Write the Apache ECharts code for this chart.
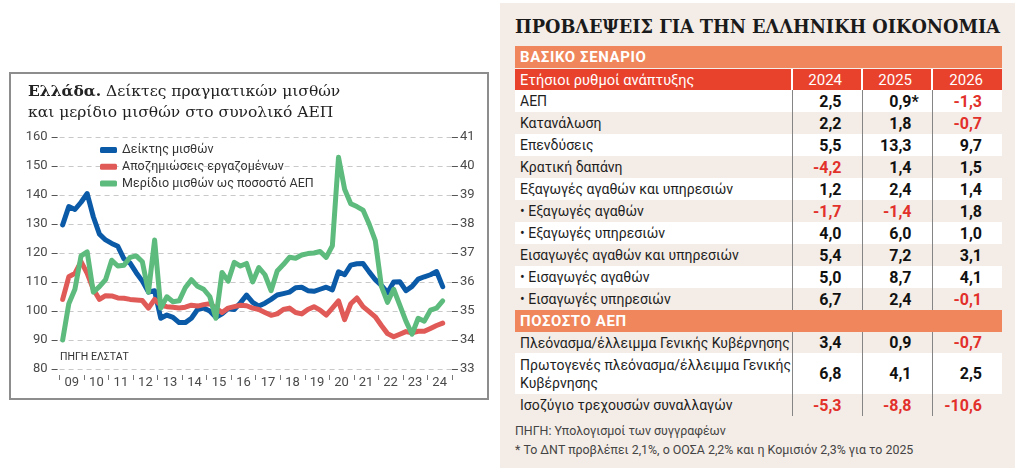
<!DOCTYPE html>
<html>
<head>
<meta charset="utf-8">
<script src="https://cdn.jsdelivr.net/npm/echarts@6/dist/echarts.min.js"></script>
<style>
  html, body { margin: 0; padding: 0; background: #fff; width: 1020px; height: 475px; overflow: hidden; }
  #chart-box { position: absolute; left: 9px; top: 72px; width: 476px; height: 324px; border: 2px solid #8d8d8d; }
  #chart-container { position: absolute; left: 0; top: 0; width: 500px; height: 475px; }
  #panel { position: absolute; left: 500px; top: 3px; width: 515px; height: 465px; background: #f4ede7; }
  #panel h1 { position: absolute; left: 15px; top: 13px; margin: 0; font: bold 17.7px 'DejaVu Serif', serif; color: #1a1a1a; white-space: nowrap; }
  #tbl { position: absolute; left: 15px; top: 43px; border-collapse: collapse; table-layout: fixed; font-family: Roboto, sans-serif; }
  #tbl td { padding: 0; white-space: nowrap; }
  #tbl td.lbl { padding-left: 5px; font-size: 14px; color: #1e1e1e; line-height: 18px; }
  #tbl td.num { text-align: right; padding-right: 20px; font-size: 16px; font-weight: bold; color: #111; border-left: 1.5px solid #858585; }
  #tbl td.neg { color: #e2302a; }
  #tbl tr.odd { background: #fff; }
  #tbl tr.sect td { background: #f0865b; color: #fff; font-weight: bold; font-size: 15px; letter-spacing: 0.6px; padding-left: 5px; }
  #tbl tr.head td { background: #e8412c; color: #fff; font-size: 14.6px; }
  #tbl tr.head td.yr { text-align: right; padding-right: 19px; border-left: 2px solid #fff; font-size: 15px; }
  #tbl tr.gap td { height: 1px; background: transparent; }
  .ast { display: inline-block; width: 0; overflow: visible; }
  .note { position: absolute; left: 15px; font: 12.4px Roboto, sans-serif; color: #444; white-space: nowrap; }
</style>
</head>
<body>
<div id="chart-box"></div>
<div id="chart-container"></div>
<div id="panel">
  <h1>ΠΡΟΒΛΕΨΕΙΣ ΓΙΑ ΤΗΝ ΕΛΛΗΝΙΚΗ ΟΙΚΟΝΟΜΙΑ</h1>
  <table id="tbl"></table>
  <div class="note" style="top:420px">ΠΗΓΗ: Υπολογισμοί των συγγραφέων</div>
  <div class="note" style="top:439px">* Το ΔΝΤ προβλέπει 2,1%, ο ΟΟΣΑ 2,2% και η Κομισιόν 2,3% για το 2025</div>
</div>
<script>
// quarterly categories 2009Q1 .. 2024Q3
var quarters = [];
for (var y = 2009; y <= 2024; y++) {
  for (var q = 1; q <= 4; q++) {
    if (y === 2024 && q > 3) break;
    quarters.push(y + 'Q' + q);
  }
}
var yearLabels = ['09', '10', '11', '12', '13', '14', '15', '16', '17', '18', '19', '20', '21', '22', '23', '24'];

// Δείκτης μισθών (left axis)
var wageIndex = [129.7, 136, 135, 137.5, 140.5, 132.5, 126.5, 124.5, 123.3, 122.3,
  118, 116.5, 113.2, 110.3, 106.5, 107, 97.5, 98.6, 97.8, 96,
  96, 97.5, 100.5, 101, 100, 97.8, 99, 100.8, 100.5, 102.8,
  105.5, 103, 101.7, 102.7, 104, 105.5, 106, 106.5, 108, 108.2,
  107, 106.8, 107.5, 108.2, 107.3, 113.5, 112.5, 115.8, 116.3, 116.4,
  113.5, 110.8, 108.8, 106.3, 110, 110.1, 107, 108.5, 111, 111.8,
  112.5, 113.6, 108.4];
// Αποζημιώσεις εργαζομένων (left axis)
var compensation = [104, 111.8, 113, 117, 113, 107.5, 104, 105.3, 105.2, 104.5,
  104.4, 104, 103.8, 103.6, 101, 104, 102, 101.5, 101.3, 101,
  101.3, 102, 101.7, 102.2, 102.5, 101, 99.5, 101, 101.5, 102,
  101.8, 101, 100.5, 99.5, 98.5, 99, 100.5, 101, 99.5, 99,
  100.5, 101.5, 100.3, 98.6, 101, 103.5, 97, 102.5, 104.5, 101.5,
  99.8, 98, 95, 92.2, 91.1, 92, 92.9, 92.5, 93, 93,
  94, 95, 95.8];
// Μερίδιο μισθών ως ποσοστό ΑΕΠ (right axis)
var wageShare = [34.0, 35.25, 35.75, 36.9, 37.04, 35.65, 35.84, 36.08, 36.75, 36.55,
  36.58, 36.85, 36.9, 36.7, 35.65, 37.45, 35.1, 35.49, 35.32, 35.35,
  35.8, 36.08, 35.85, 35.75, 35.5, 34.75, 36.33, 36.03, 36.68, 36.55,
  36.64, 36.0, 36.5, 36.25, 35.7, 36.38, 36.6, 36.85, 36.82, 36.93,
  36.98, 37.0, 37.05, 36.85, 37.25, 40.3, 39.2, 38.7, 38.6, 38.48,
  38.0, 37.43, 35.85, 35.3, 35.75, 35.2, 34.65, 34.2, 34.75, 34.65,
  35.03, 35.1, 35.35];

// table data
var rowLabels = ['ΑΕΠ', 'Κατανάλωση', 'Επενδύσεις', 'Κρατική δαπάνη', 'Εξαγωγές αγαθών και υπηρεσιών',
  '• Εξαγωγές αγαθών', '• Εξαγωγές υπηρεσιών', 'Εισαγωγές αγαθών και υπηρεσιών',
  '• Εισαγωγές αγαθών', '• Εισαγωγές υπηρεσιών'];
var rowLabels2 = ['Πλεόνασμα/έλλειμμα Γενικής Κυβέρνησης', 'Πρωτογενές πλεόνασμα/έλλειμμα Γενικής<br>Κυβέρνησης', 'Ισοζύγιο τρεχουσών συναλλαγών'];
var years = ['2024', '2025', '2026'];
var v2024 = [2.5, 2.2, 5.5, -4.2, 1.2, -1.7, 4.0, 5.4, 5.0, 6.7, 3.4, 6.8, -5.3];
var v2025 = [0.9, 1.8, 13.3, 1.4, 2.4, -1.4, 6.0, 7.2, 8.7, 2.4, 0.9, 4.1, -8.8];
var v2026 = [-1.3, -0.7, 9.7, 1.5, 1.4, 1.8, 1.0, 3.1, 4.1, -0.1, -0.7, 2.5, -10.6];

function fmt(v) { return v.toFixed(1).replace('.', ','); }
function numCell(v, star) {
  return '<td class="num' + (v < 0 ? ' neg' : '') + '">' + fmt(v) + (star ? '<span class="ast">*</span>' : '') + '</td>';
}
function dataRow(label, i, odd, h) {
  return '<tr class="' + (odd ? 'odd' : '') + '" style="height:' + h + 'px"><td class="lbl">' + label + '</td>' +
    numCell(v2024[i]) + numCell(v2025[i], i === 0) + numCell(v2026[i]) + '</tr>';
}
var html = '<colgroup><col style="width:277px"><col style="width:70px"><col style="width:70px"><col style="width:70px"></colgroup>';
html += '<tr class="sect" style="height:22px"><td colspan="4">ΒΑΣΙΚΟ ΣΕΝΑΡΙΟ</td></tr>';
html += '<tr class="gap"><td colspan="4"></td></tr>';
html += '<tr class="head" style="height:21px"><td style="padding-left:5px">Ετήσιοι ρυθμοί ανάπτυξης</td>' +
  years.map(function (y) { return '<td class="yr">' + y + '</td>'; }).join('') + '</tr>';
rowLabels.forEach(function (l, i) { html += dataRow(l, i, i % 2 === 0, 22); });
html += '<tr class="sect" style="height:22px"><td colspan="4">ΠΟΣΟΣΤΟ ΑΕΠ</td></tr>';
html += dataRow(rowLabels2[0], 10, false, 21);
html += dataRow(rowLabels2[1], 11, true, 41);
html += dataRow(rowLabels2[2], 12, false, 22);
document.getElementById('tbl').innerHTML = html;

var dom = document.getElementById('chart-container');
var myChart = echarts.init(dom, null, { renderer: 'canvas' });

function toPairs(values) {
  return values.map(function (v, i) {
    var parts = quarters[i].split('Q');
    return [+parts[0] + (+parts[1] - 1) / 4 + 0.125, v];
  });
}

var axisFont = { fontFamily: 'Roboto', fontSize: 13, color: '#4a4a4a' };

var option = {
  animation: false,
  title: {
    text: '{b|Ελλάδα.} Δείκτες πραγματικών μισθών\nκαι μερίδιο μισθών στο συνολικό ΑΕΠ',
    left: 28,
    top: 81,
    padding: 0,
    textStyle: {
      fontFamily: 'DejaVu Serif', fontSize: 15.5, fontWeight: 'normal', color: '#222', lineHeight: 21,
      rich: { b: { fontFamily: 'DejaVu Serif', fontWeight: 'bold', fontSize: 15.5, color: '#222', lineHeight: 21 } }
    }
  },
  legend: {
    left: 100,
    top: 143,
    orient: 'vertical',
    icon: 'roundRect',
    itemWidth: 17,
    itemHeight: 6,
    itemGap: 2.7,
    padding: 0,
    textStyle: { fontFamily: 'Roboto', fontSize: 12.5, color: '#333', lineHeight: 14 }
  },
  grid: { left: 59.6, right: 48.1, top: 137, bottom: 106 },
  xAxis: [
    {
      type: 'value', min: 2009, max: 2025, interval: 1, offset: 6,
      axisLine: { show: false },
      axisTick: { show: true, length: 5, lineStyle: { color: '#777' } },
      axisLabel: { show: false },
      splitLine: { show: false }
    },
    {
      type: 'category', data: yearLabels, boundaryGap: true, position: 'bottom',
      axisLine: { show: false }, axisTick: { show: false },
      axisLabel: Object.assign({ margin: 7, interval: 0 }, axisFont)
    }
  ],
  yAxis: [
    {
      type: 'value', min: 80, max: 160, interval: 10, offset: 2,
      axisLine: { show: false },
      axisTick: { show: true, length: 6, lineStyle: { color: '#555' } },
      axisLabel: Object.assign({ margin: 10 }, axisFont),
      splitLine: { show: true, lineStyle: { color: '#c9c9c9', type: [5, 4] } }
    },
    {
      type: 'value', min: 33, max: 41, interval: 1, position: 'right',
      axisLine: { show: false },
      axisTick: { show: true, length: 6, lineStyle: { color: '#555' } },
      axisLabel: Object.assign({ margin: 8 }, axisFont),
      splitLine: { show: false }
    }
  ],
  graphic: [
    { type: 'text', left: 60, top: 352, style: { text: 'ΠΗΓΗ ΕΛΣΤΑΤ', font: '10.5px Roboto', fill: '#333' } }
  ],
  series: [
    {
      name: 'Δείκτης μισθών', type: 'line', xAxisIndex: 0, yAxisIndex: 0,
      data: toPairs(wageIndex), showSymbol: false, color: '#0b5aa8',
      lineStyle: { width: 5, cap: 'round', join: 'round' }
    },
    {
      name: 'Αποζημιώσεις εργαζομένων', type: 'line', xAxisIndex: 0, yAxisIndex: 0,
      data: toPairs(compensation), showSymbol: false, color: '#e05a57',
      lineStyle: { width: 5, cap: 'round', join: 'round' }
    },
    {
      name: 'Μερίδιο μισθών ως ποσοστό ΑΕΠ', type: 'line', xAxisIndex: 0, yAxisIndex: 1,
      data: toPairs(wageShare), showSymbol: false, color: '#5dbb7d',
      lineStyle: { width: 5, cap: 'round', join: 'round' }
    }
  ]
};

if (option && typeof option === 'object') {
  myChart.setOption(option);
}
window.addEventListener('resize', myChart.resize);
</script>
</body>
</html>
